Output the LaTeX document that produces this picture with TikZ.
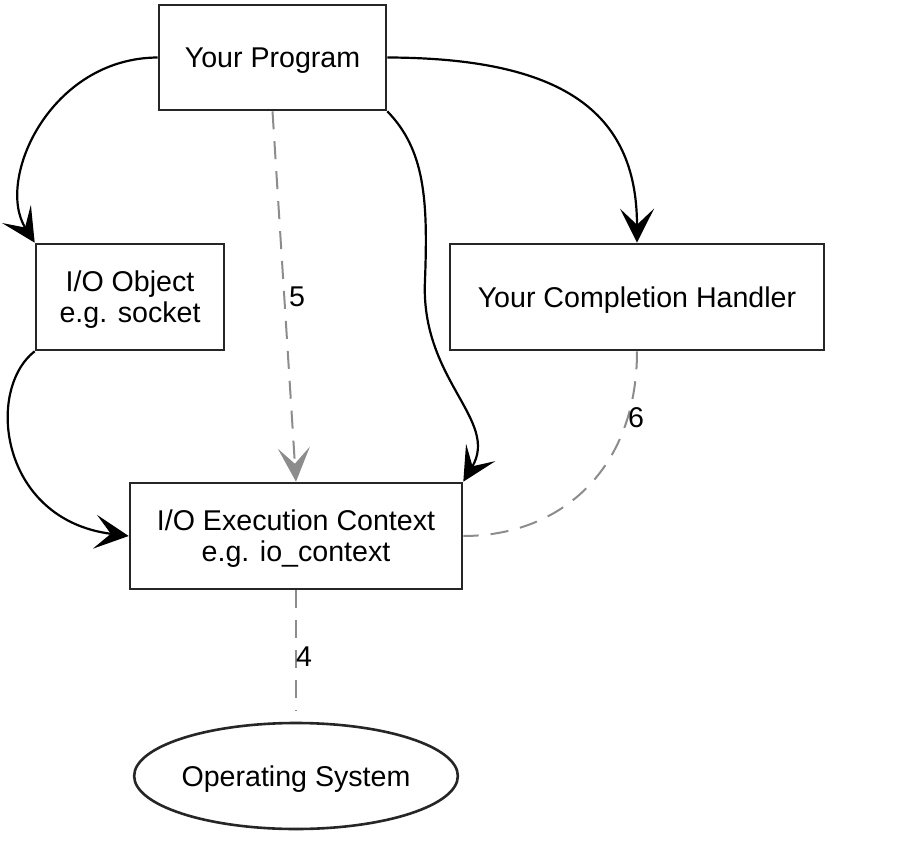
\documentclass[tikz,border=0pt]{standalone}
\usepackage{fontspec}
\setmainfont{Liberation Sans}
\usetikzlibrary{arrows.meta,shapes.geometric}

\tikzset{
  box/.style={draw=black!85, line width=1.3pt, fill=white, rectangle, align=center,
    inner sep=0pt, text depth=0pt, font=\fontsize{14.3}{15.5}\selectfont},
  osnode/.style={draw=black!85, line width=1.3pt, ellipse, inner sep=0pt,
    text depth=0pt, font=\fontsize{14.3}{15.5}\selectfont},
  flow/.style={draw=black, line width=1.1pt,
    -{Stealth[length=17pt,width=17pt,inset=8pt]}},
  hint/.style={draw=black!45, line width=1pt, dash pattern=on 9pt off 6pt},
  hintarrow/.style={hint, -{Stealth[length=17pt,width=16pt,inset=8pt,fill=black!45]}},
  num/.style={inner sep=0pt, font=\fontsize{14.3}{15.5}\selectfont}
}

\begin{document}
\begin{tikzpicture}[x=0.5pt,y=-0.5pt]
  \useasboundingbox (0,0) rectangle (905,856);

  % boxes
  \node[box, minimum width=113.5pt, minimum height=52.5pt] (prog) at (272.5,57.5) {Your Program};
  \node[box, minimum width=94pt, minimum height=53pt] (obj) at (130,297) {I/O Object\\e.g. socket};
  \node[box, minimum width=187pt, minimum height=53pt] (cmp) at (637,297) {Your Completion Handler};
  \node[box, minimum width=166pt, minimum height=53pt] (exec) at (296,536) {I/O Execution Context\\e.g. io\_context};
  \node[osnode, minimum width=161pt, minimum height=53pt] (os) at (296,776) {Operating System};

  % solid call paths
  \draw[flow] (prog.west) .. controls (50,58) and (-5,180) .. (obj.north west);
  \draw[flow] (prog.east) .. controls (560,58) and (637,110) .. (cmp.north);
  \draw[flow] (prog.south east) .. controls (425,150) and (428,200) .. (425,280)
                                .. controls (420,380) and (500,420) .. (exec.north east);
  \draw[flow] (obj.south west) .. controls (-15,390) and (0,520) .. (exec.west);

  % dashed interactions
  \draw[hintarrow] (prog.south) -- (exec.north);
  \draw[hint] (cmp.south) .. controls (637,470) and (560,536) .. (exec.east);
  \draw[hint, shorten >=5.5pt] (exec.south) -- (os.north);

  % step numbers
  \node[num] (n5) at (297,297) {5};
  \node[num] (n6) at (636,418) {6};
  \node[num] (n4) at (304,657) {4};
\end{tikzpicture}
\end{document}
